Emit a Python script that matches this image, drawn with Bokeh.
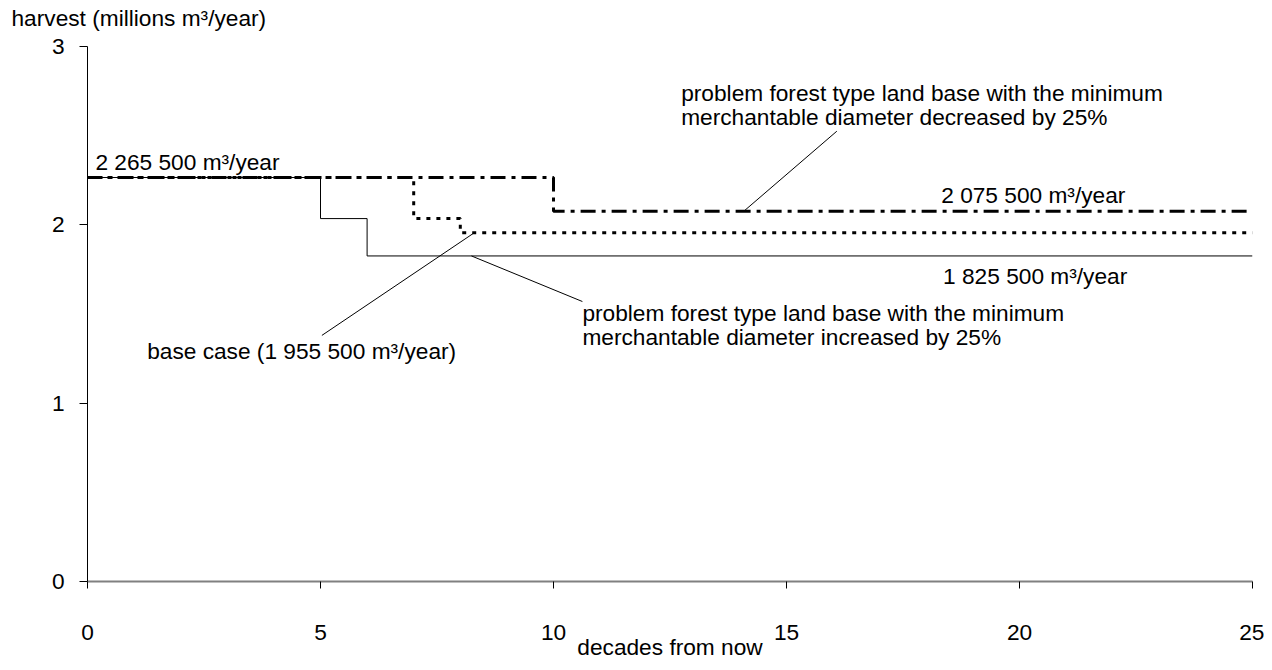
from bokeh.plotting import figure
from bokeh.models import Range1d, FixedTicker, ColumnDataSource, Title
from bokeh.core.properties import value
from bokeh.embed import file_html
from bokeh.resources import INLINE

# ---- data ----
# step series (decade, harvest in millions m3/year); steps are "after" style
base_x = [0, 5, 6, 25]
base_y = [2.2655, 2.035, 1.8255, 1.8255]
inc_x = [0, 7, 8, 25]
inc_y = [2.2655, 2.035, 1.9555, 1.9555]
dec_x = [0, 10, 25]
dec_y = [2.2655, 2.0755, 2.0755]

x_ticks = [0, 5, 10, 15, 20, 25]
y_ticks = [0, 1, 2, 3]

# annotation texts (x, y in data units, left-anchored)
ann_text = [
    "2 265 500 m³/year",
    "problem forest type land base with the minimum",
    "merchantable diameter decreased by 25%",
    "2 075 500 m³/year",
    "1 825 500 m³/year",
    "problem forest type land base with the minimum",
    "merchantable diameter increased by 25%",
    "base case (1 955 500 m³/year)",
]
ann_x = [0.17, 12.74, 12.74, 18.32, 18.36, 10.62, 10.62, 1.28]
ann_y = [2.352, 2.737, 2.603, 2.168, 1.715, 1.503, 1.369, 1.29]

# leader lines: (x0, y0, x1, y1)
lead_x0 = [16.08, 8.24, 8.30]
lead_y0 = [2.525, 1.8255, 1.9555]
lead_x1 = [14.08, 10.62, 5.03]
lead_y1 = [2.0755, 1.57, 1.38]

FONT = "Liberation Sans"
FS = "22.7px"

p = figure(width=1264, height=662, output_backend="svg", toolbar_location=None,
           x_range=Range1d(0, 25), y_range=Range1d(0, 3),
           min_border_left=87, min_border_right=12, min_border_top=46, min_border_bottom=79)
p.outline_line_color = None
p.grid.grid_line_color = None
p.background_fill_color = "white"
p.border_fill_color = "white"

def step_xy(xs, ys):
    sx, sy = [], []
    for i in range(len(xs) - 1):
        sx += [xs[i], xs[i + 1]]
        sy += [ys[i], ys[i]]
    return sx, sy

bx, by = step_xy(base_x, base_y)
ix, iy = step_xy(inc_x, inc_y)
dx, dy = step_xy(dec_x, dec_y)

p.line(bx, by, line_color="black", line_width=1)
p.line(ix, iy, line_color="black", line_width=3, line_dash="4 6")
p.line(dx, dy, line_color="black", line_width=3, line_dash="15 6 4 6")

p.segment(x0=lead_x0, y0=lead_y0, x1=lead_x1, y1=lead_y1, line_color="black", line_width=1)

src = ColumnDataSource(dict(x=ann_x, y=ann_y, t=ann_text))
p.text(x="x", y="y", text="t", source=src, text_font=value(FONT), text_font_size=FS,
       text_color="black", text_align="left", text_baseline="middle")

# axes
xa = p.xaxis[0]
xa.ticker = FixedTicker(ticks=x_ticks)
xa.axis_line_color = "#808080"
xa.axis_line_width = 2
xa.major_tick_line_color = "black"
xa.major_tick_out = 7
xa.major_tick_in = 0
xa.minor_tick_line_color = None
xa.major_label_standoff = 36
xa.major_label_text_font = FONT
xa.major_label_text_font_size = FS
xa.major_label_text_color = "black"
xa.axis_label = "decades from now"
xa.axis_label_standoff = -9
xa.axis_label_text_font = FONT
xa.axis_label_text_font_size = FS
xa.axis_label_text_font_style = "normal"
xa.axis_label_text_color = "black"

ya = p.yaxis[0]
ya.ticker = FixedTicker(ticks=y_ticks)
ya.axis_line_color = "black"
ya.major_tick_line_color = "black"
ya.major_tick_out = 8
ya.major_tick_in = 0
ya.minor_tick_line_color = None
ya.major_label_standoff = 15
ya.major_label_text_font = FONT
ya.major_label_text_font_size = FS
ya.major_label_text_color = "black"

# spacer panel next to the frame, then the y-axis title at the top-left
p.add_layout(Title(text=" ", text_font_size="1px", standoff=12), "above")
p.add_layout(Title(text="harvest (millions m³/year)", align="left", offset=-76,
                   standoff=2, text_font=FONT, text_font_size=FS,
                   text_font_style="normal", text_color="black"), "above")

open("out.html", "w").write(file_html(p, INLINE))
